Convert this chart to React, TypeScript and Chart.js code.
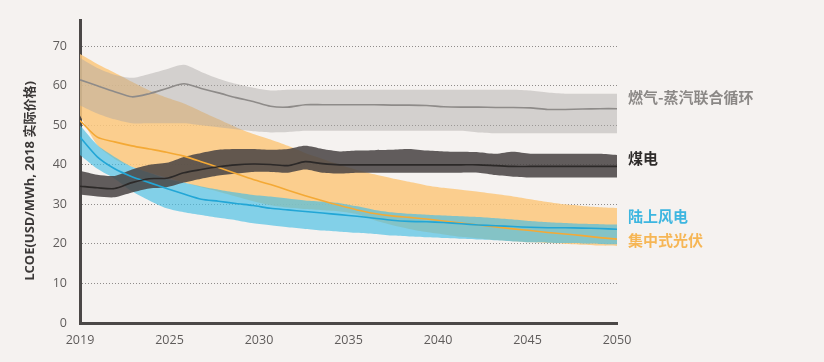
import React, { useEffect, useRef } from "react";
import { Chart, registerables } from "chart.js";

Chart.register(...registerables);

const years = [2019, 2020, 2021, 2022, 2023, 2024, 2025, 2026, 2027, 2028, 2029, 2030, 2031, 2032, 2033, 2034, 2035, 2036, 2037, 2038, 2039, 2040, 2041, 2042, 2043, 2044, 2045, 2046, 2047, 2048, 2049, 2050];

const tickLabels = ["2019", "2025", "2030", "2035", "2040", "2045", "2050"];

const gasMid = [61.5, 60, 58.5, 57.2, 58, 59.3, 60.5, 59.3, 58.2, 57, 56, 54.8, 54.6, 55.2, 55.2, 55.2, 55.2, 55.2, 55.1, 55.1, 55, 54.7, 54.6, 54.6, 54.5, 54.5, 54.4, 54.0, 54.0, 54.1, 54.2, 54.2];
const gasHigh = [67, 64.5, 62.8, 62, 63, 64.2, 65.3, 63.5, 61.8, 60.5, 59.5, 58.8, 59, 59, 59, 59, 59, 59, 59, 59, 59, 59, 59, 59, 59, 59, 58.8, 58.3, 58, 58, 58, 58];
const gasLow = [55, 53, 51.5, 50.5, 50.5, 50.5, 50.5, 50, 49.5, 49, 48.5, 48.2, 48.3, 48.6, 48.6, 48.6, 48.6, 48.6, 48.6, 48.6, 48.6, 48.6, 48.6, 48.2, 48, 48, 48, 48, 48, 48, 48, 48];

const coalMid = [34.6, 34.2, 34, 35.5, 36.5, 36.6, 38, 38.8, 39.5, 40, 40.2, 40.1, 39.8, 40.8, 40.3, 40, 40, 40, 40, 40, 40, 40, 40, 40, 39.8, 39.6, 39.6, 39.6, 39.6, 39.6, 39.6, 39.6];
const coalHigh = [38.5, 37.5, 37.2, 38.8, 40, 40.5, 42, 43, 43.8, 44, 44, 43.8, 44, 44.8, 44, 43.4, 43.6, 43.7, 43.8, 44, 43.6, 43.4, 43.3, 43.2, 42.8, 43.3, 42.8, 42.8, 42.8, 42.8, 42.8, 42.5];
const coalLow = [32.5, 32, 31.8, 33, 34, 34.3, 35.5, 36.5, 37.3, 37.8, 38.2, 38.2, 38, 38.8, 38, 37.8, 38, 38, 38, 38, 38, 38, 38, 38, 37.4, 37, 36.8, 36.8, 36.8, 36.8, 36.8, 36.8];

const windMid = [47, 42, 39, 37, 35.5, 34, 32.6, 31.3, 30.8, 30.2, 29.7, 29, 28.6, 28.2, 27.8, 27.4, 27, 26.5, 26, 25.7, 25.6, 25.4, 25.1, 24.8, 24.6, 24.4, 24.2, 24.1, 24.1, 24, 23.9, 23.7];
const windHigh = [50, 45, 42, 39.5, 38, 36.5, 35.5, 34.5, 33.7, 33, 32.4, 32, 31.5, 31, 30.7, 30.3, 29.5, 28.6, 28, 27.6, 27.4, 27.2, 27, 26.8, 26.5, 26.2, 25.8, 25.5, 25.3, 25.1, 25, 24.9];
const windLow = [42.5, 39, 36.5, 33.3, 31, 29, 28, 27.3, 26.6, 26, 25.2, 24.7, 24.2, 23.8, 23.4, 23.1, 22.8, 22.5, 22.1, 21.9, 21.7, 21.5, 21.3, 21.1, 20.9, 20.6, 20.4, 20.3, 20.2, 20.1, 20, 19.9];

const solarMid = [51.2, 47, 45.8, 44.8, 44, 43.2, 42.2, 40.8, 39.3, 37.8, 36.3, 35, 33.6, 32.2, 30.9, 29.7, 28.6, 27.7, 27.1, 26.7, 26.3, 25.8, 25.3, 24.8, 24.3, 23.8, 23.4, 22.9, 22.5, 22.1, 21.6, 21.2];
const solarHigh = [68, 65.5, 63.3, 61, 58.8, 57, 55.5, 53.5, 51.5, 49.5, 47.8, 46.4, 44.8, 43, 41.5, 40, 38.7, 37.6, 36.6, 35.7, 34.8, 34.2, 33.7, 33.2, 32.6, 32, 31.3, 30.6, 30, 29.6, 29.3, 29.1];
const solarLow = [52.5, 45, 41.5, 39.5, 38, 36.8, 35.5, 34.3, 33.2, 32, 30.8, 29.8, 29.2, 28.8, 28.5, 28.2, 27.5, 26, 24.8, 23.8, 23, 22.4, 21.8, 21.4, 21, 20.7, 20.4, 20.2, 20, 19.8, 19.6, 19.5];

const seriesNames = ["燃气-蒸汽联合循环", "煤电", "陆上风电", "集中式光伏"];
const seriesLabelValues = [57.1, 41.7, 26.9, 20.9];
const seriesLabelColors = ["#8b8886", "#2f2c2b", "#3db6e0", "#f6b655"];

const yTitle = "LCOE(USD/MWh, 2018 实际价格)";

const pts = (arr: number[]) => years.map((x, i) => ({ x, y: arr[i] }));

const band = (label: string, hi: number[], lo: number[], fillColor: string, order: number) => [
  {
    label: label + " high",
    data: pts(hi),
    borderWidth: 0,
    pointRadius: 0,
    backgroundColor: fillColor,
    fill: "+1",
    order,
    tension: 0.25,
    xAxisID: "x",
    yAxisID: "y",
  },
  {
    label: label + " low",
    data: pts(lo),
    borderWidth: 0,
    pointRadius: 0,
    fill: false,
    order,
    tension: 0.25,
    xAxisID: "x",
    yAxisID: "y",
  },
];

const line = (label: string, mid: number[], color: string) => ({
  label,
  data: pts(mid),
  borderColor: color,
  borderWidth: 1.6,
  pointRadius: 0,
  fill: false,
  order: 0,
  tension: 0.25,
  xAxisID: "x",
  yAxisID: "y",
});

const bgPlugin = {
  id: "bg",
  beforeDraw(chart: any) {
    const { ctx, width, height } = chart;
    ctx.save();
    ctx.fillStyle = "#f5f2f0";
    ctx.fillRect(0, 0, width, height);
    ctx.restore();
  },
};

const textPlugin = {
  id: "texts",
  afterDraw(chart: any) {
    const { ctx } = chart;
    const y = chart.scales.y;
    ctx.save();
    ctx.textBaseline = "middle";
    ctx.textAlign = "left";
    ctx.font = 'bold 15px "Noto Sans CJK SC", "Noto Sans", sans-serif';
    seriesNames.forEach((name, i) => {
      ctx.fillStyle = seriesLabelColors[i];
      ctx.fillText(name, 628, y.getPixelForValue(seriesLabelValues[i]));
    });
    ctx.translate(30, 181);
    ctx.rotate(-Math.PI / 2);
    ctx.textAlign = "center";
    ctx.fillStyle = "#3b3837";
    ctx.font = 'bold 13px "Open Sans", "Noto Sans CJK SC", sans-serif';
    ctx.fillText(yTitle, 0, 0);
    ctx.restore();
  },
};

export default function App() {
  const ref = useRef<HTMLCanvasElement>(null);
  useEffect(() => {
    document.body.style.margin = "0";
    document.body.style.background = "#f5f2f0";
    const chart = new Chart(ref.current as HTMLCanvasElement, {
      type: "line",
      data: {
        datasets: [
          line("燃气-蒸汽联合循环", gasMid, "#8e8b89"),
          line("煤电", coalMid, "#2c2928"),
          line("陆上风电", windMid, "#22a6d6"),
          line("集中式光伏", solarMid, "#f4a935"),
          ...band("coal", coalHigh, coalLow, "rgba(72,68,67,0.86)", 1),
          ...band("gas", gasHigh, gasLow, "rgba(170,166,163,0.45)", 2),
          ...band("wind", windHigh, windLow, "rgba(70,190,228,0.66)", 3),
          ...band("solar", solarHigh, solarLow, "rgba(252,200,125,0.85)", 4),
        ] as any,
      },
      options: {
        animation: false,
        responsive: false,
        devicePixelRatio: 1,
        layout: { padding: { left: 15, right: 207, top: 17, bottom: 0 } },
        plugins: { legend: { display: false }, tooltip: { enabled: false } },
        scales: {
          x: { type: "linear", min: 2019, max: 2050, display: false },
          xl: {
            type: "category",
            labels: tickLabels,
            position: "bottom",
            offset: false,
            grid: { display: false, drawTicks: false },
            border: { display: true, color: "#4b4847", width: 3 },
            ticks: {
              color: "#5f5c5b",
              font: { family: '"Open Sans", sans-serif', size: 12.5 },
              padding: 10,
              maxRotation: 0,
              autoSkip: false,
            },
            afterFit: (s: any) => {
              s.height = 39;
            },
          },
          y: {
            type: "linear",
            min: 0,
            max: 76.5,
            ticks: {
              stepSize: 10,
              includeBounds: false,
              color: "#5f5c5b",
              font: { family: '"Open Sans", sans-serif', size: 12.5 },
              padding: 13,
            },
            grid: {
              color: (c: any) => (c.tick && c.tick.value === 0 ? "rgba(0,0,0,0)" : "#8f8c8a"),
              lineWidth: 1,
              drawTicks: false,
            },
            border: { display: true, color: "#4b4847", width: 3, dash: [1, 2] },
            afterFit: (s: any) => {
              s.width = 65;
            },
          },
        } as any,
      },
      plugins: [bgPlugin, textPlugin],
    });
    return () => chart.destroy();
  }, []);
  return (
    <div style={{ position: "absolute", left: 0, top: 0, width: 824, height: 362 }}>
      <canvas ref={ref} width={824} height={362} />
    </div>
  );
}
